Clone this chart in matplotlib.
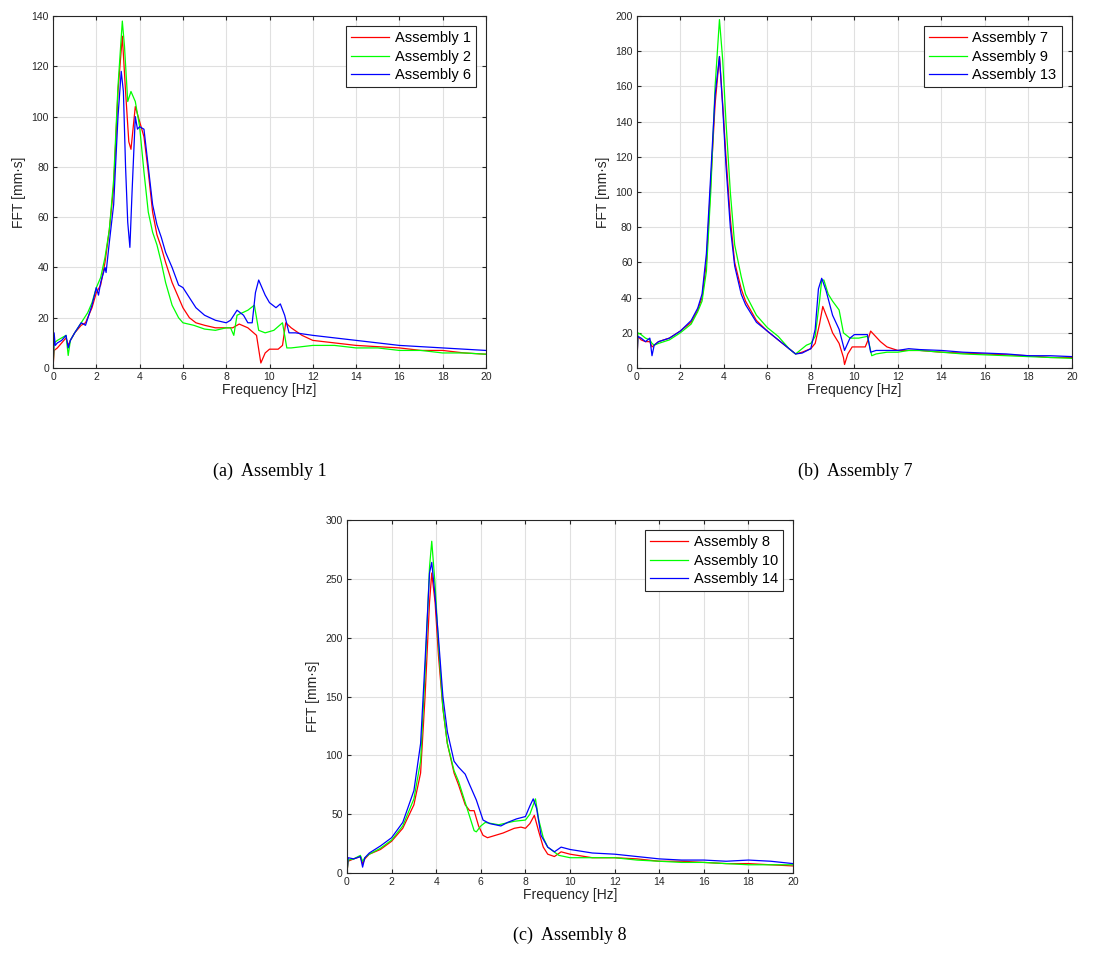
import numpy as np
import matplotlib
matplotlib.use("Agg")
import matplotlib.pyplot as plt

plt.rcParams['font.family'] = ['Liberation Sans', 'DejaVu Sans']

# --- panel (a): Assembly 1 / 2 / 6 ---
fa_red = [0, 0.05, 0.2, 0.4, 0.6, 0.7, 0.8, 1.0, 1.3, 1.5, 1.8, 2.0, 2.2, 2.4, 2.6, 2.8, 3.0, 3.2, 3.35, 3.5, 3.6,
          3.8, 4.0, 4.2, 4.4, 4.6, 4.8, 5.0, 5.2, 5.5, 5.8, 6.0, 6.3, 6.6, 7, 7.5, 8, 8.3, 8.6, 9, 9.4, 9.6, 9.8,
          10, 10.4, 10.6, 10.75, 11, 11.5, 12, 13, 14, 15, 16, 17, 18, 19, 20]
va_red = [0, 7, 8, 10, 12, 9, 11, 14, 17, 18, 24, 30, 33, 42, 55, 72, 110, 132, 110, 90, 87,
          104, 98, 92, 78, 62, 53, 48, 42, 34, 28, 24, 20, 18, 17, 16, 16, 16, 17.5, 16, 13, 2, 6,
          7.5, 7.5, 9, 18, 16, 13, 11, 10, 9, 8.5, 8, 7, 7, 6, 5.5]
fa_green = [0, 0.05, 0.2, 0.4, 0.6, 0.7, 0.8, 1.0, 1.3, 1.6, 1.8, 2.0, 2.2, 2.4, 2.6, 2.8, 3.0, 3.2, 3.3, 3.45,
            3.6, 3.8, 4.0, 4.2, 4.4, 4.6, 4.8, 5.0, 5.2, 5.5, 5.8, 6.0, 6.5, 7, 7.5, 8, 8.2, 8.35, 8.5, 9, 9.3,
            9.5, 9.8, 10.2, 10.6, 10.8, 11, 12, 13, 14, 15, 16, 17, 18, 19, 20]
va_green = [0, 10, 11, 12, 13, 5, 11, 14, 18, 22, 26, 32, 36, 44, 55, 75, 112, 138, 128, 106,
            110, 106, 96, 78, 62, 54, 49, 42, 34, 25, 20, 18, 17, 15.5, 15, 16, 16, 13, 21, 23, 25,
            15, 14, 15, 18, 8, 8, 9, 9, 8, 8, 7, 7, 6, 6, 5.5]
fa_blue = [0, 0.05, 0.1, 0.2, 0.4, 0.6, 0.7, 0.8, 1.0, 1.3, 1.5, 1.8, 2.0, 2.1, 2.2, 2.4, 2.45, 2.6, 2.8, 3.0,
           3.15, 3.25, 3.35, 3.45, 3.55, 3.65, 3.8, 3.9, 4.0, 4.2, 4.4, 4.6, 4.8, 5.0, 5.2, 5.5, 5.8, 6.0, 6.3,
           6.6, 7, 7.5, 8, 8.2, 8.5, 8.8, 9.0, 9.2, 9.35, 9.5, 9.8, 10, 10.3, 10.5, 10.7, 10.9, 11.2, 12, 13,
           14, 15, 16, 17, 18, 19, 20]
va_blue = [0, 14, 9, 10, 11, 13, 8, 11, 14, 18, 17, 25, 32, 29, 34, 40, 38, 50, 65, 100,
           118, 110, 80, 58, 48, 70, 100, 95, 96, 95, 80, 65, 57, 52, 46, 40, 33, 32, 28,
           24, 21, 19, 18, 19, 23, 21, 18, 18, 30, 35, 29, 26, 24, 25.5, 21, 14, 14, 13, 12,
           11, 10, 9, 8.5, 8, 7.5, 7]

# --- panel (b): Assembly 7 / 9 / 13 ---
fb_red = [0, 0.05, 0.2, 0.4, 0.6, 0.7, 0.8, 1.0, 1.5, 2.0, 2.5, 2.8, 3.0, 3.2, 3.4, 3.6, 3.8, 3.95, 4.1, 4.3,
          4.5, 4.8, 5.0, 5.5, 6.0, 6.5, 7.0, 7.3, 7.6, 8.0, 8.2, 8.4, 8.55, 8.8, 9.0, 9.3, 9.5, 9.55, 9.7,
          9.9, 10.2, 10.5, 10.6, 10.75, 10.9, 11.2, 11.5, 12, 13, 14, 15, 16, 17, 18, 19, 20]
vb_red = [0, 18, 16, 15, 15, 12, 13, 15, 17, 21, 26, 33, 40, 60, 105, 150, 177, 150, 120, 85,
          60, 45, 38, 27, 21, 16, 11, 8, 9, 11, 14, 25, 35, 27, 20, 14, 6, 2, 8,
          12, 12, 12, 15, 21, 19, 15, 12, 10, 10, 9, 8.5, 8, 7.5, 7, 6, 6]
fb_green = [0, 0.05, 0.2, 0.4, 0.6, 0.7, 0.8, 1.0, 1.5, 2.0, 2.5, 2.8, 3.0, 3.2, 3.4, 3.6, 3.8, 3.95, 4.1, 4.3,
            4.5, 4.8, 5.0, 5.5, 6.0, 6.5, 7.0, 7.3, 7.6, 7.8, 8.0, 8.2, 8.4, 8.5, 8.6, 8.8, 9.0, 9.3, 9.5,
            9.8, 10.2, 10.6, 10.8, 11, 11.5, 12, 12.5, 13, 14, 15, 16, 17, 18, 19, 20]
vb_green = [0, 20, 19, 17, 16, 14, 13, 14, 16, 20, 25, 32, 38, 55, 100, 160, 198, 175, 140, 100,
            70, 52, 42, 30, 23, 18, 11, 8, 11, 13, 14, 18, 38, 50, 50, 42, 38, 33, 20,
            17, 17, 18, 7, 8, 9, 9, 10, 10, 9, 8, 7.5, 7, 6.5, 6, 5.5]
fb_blue = [0, 0.05, 0.2, 0.4, 0.6, 0.7, 0.8, 1.0, 1.5, 2.0, 2.5, 2.8, 3.0, 3.2, 3.4, 3.6, 3.8, 3.95, 4.1, 4.3,
           4.5, 4.8, 5.0, 5.5, 6.0, 6.5, 7.0, 7.3, 7.6, 8.0, 8.2, 8.35, 8.5, 8.7, 9.0, 9.3, 9.55, 9.8, 10,
           10.6, 10.75, 11, 11.5, 12, 12.5, 13, 14, 15, 16, 17, 18, 19, 20]
vb_blue = [0, 18, 17, 15, 17, 7, 13, 15, 17, 21, 27, 34, 42, 65, 110, 155, 177, 148, 115, 80,
           58, 42, 36, 26, 21, 16, 11, 8, 8.5, 11, 22, 45, 51, 44, 30, 22, 10, 17, 19,
           19, 9, 10, 10, 10, 11, 10.5, 10, 9, 8.5, 8, 7, 7, 6.5]

# --- panel (c): Assembly 8 / 10 / 14 ---
fc_red = [0, 0.05, 0.3, 0.6, 0.7, 0.8, 1.0, 1.5, 2.0, 2.5, 3.0, 3.3, 3.5, 3.7, 3.8, 3.95, 4.1, 4.3, 4.5, 4.8,
          5.0, 5.3, 5.5, 5.7, 5.9, 6.1, 6.3, 7, 7.5, 7.8, 8.0, 8.2, 8.4, 8.6, 8.8, 9.0, 9.3, 9.6, 10, 11,
          12, 13, 14, 15, 16, 17, 18, 19, 20]
vc_red = [0, 10, 12, 14, 8, 12, 16, 20, 27, 38, 58, 85, 150, 230, 255, 230, 185, 140, 110, 85,
          75, 58, 53, 53, 40, 32, 30, 34, 38, 39, 38, 42, 49, 35, 22, 16, 14, 18, 16, 13,
          13, 12, 10, 10, 9, 8, 8, 7, 6]
fc_green = [0, 0.05, 0.3, 0.6, 0.7, 0.8, 1.0, 1.5, 2.0, 2.5, 3.0, 3.3, 3.5, 3.7, 3.8, 3.95, 4.1, 4.3, 4.5, 4.8,
            5.0, 5.3, 5.5, 5.7, 5.8, 6.0, 6.2, 6.8, 7.5, 8.0, 8.2, 8.45, 8.6, 8.8, 9.0, 9.5, 10, 11, 12, 13,
            14, 15, 16, 17, 18, 19, 20]
vc_green = [0, 11, 12, 15, 10, 13, 16, 21, 28, 40, 63, 95, 170, 260, 282, 245, 195, 140, 110, 87,
            78, 60, 48, 36, 35, 40, 43, 41, 44, 45, 50, 63, 45, 30, 22, 15, 13, 13, 13, 11,
            10, 9, 9, 8, 7, 7, 7]
fc_blue = [0, 0.05, 0.3, 0.6, 0.7, 0.8, 1.0, 1.5, 2.0, 2.5, 3.0, 3.3, 3.5, 3.7, 3.8, 3.95, 4.1, 4.3, 4.5, 4.8,
           5.0, 5.3, 5.5, 5.8, 6.1, 6.4, 6.9, 7.2, 7.6, 8.0, 8.2, 8.35, 8.5, 8.7, 9.0, 9.3, 9.6, 10, 11,
           12, 13, 14, 15, 16, 17, 18, 19, 20]
vc_blue = [0, 13, 12, 14, 5, 13, 17, 23, 30, 43, 70, 110, 180, 255, 264, 235, 200, 150, 120, 95,
           90, 84, 75, 62, 45, 42, 40, 43, 46, 48, 57, 63, 55, 32, 22, 18, 22, 20, 17,
           16, 14, 12, 11, 11, 10, 11, 10, 8]

panels = [
    dict(rect=[0.0484, 0.6194, 0.395, 0.364], ymax=140, ystep=20,
         series=[(fa_red, va_red, 'Assembly 1'), (fa_green, va_green, 'Assembly 2'),
                 (fa_blue, va_blue, 'Assembly 6')],
         caption='(a)  Assembly 1', cap_xy=(0.246, 0.513)),
    dict(rect=[0.581, 0.6194, 0.397, 0.364], ymax=200, ystep=20,
         series=[(fb_red, vb_red, 'Assembly 7'), (fb_green, vb_green, 'Assembly 9'),
                 (fb_blue, vb_blue, 'Assembly 13')],
         caption='(b)  Assembly 7', cap_xy=(0.780, 0.513)),
    dict(rect=[0.3166, 0.0972, 0.407, 0.365], ymax=300, ystep=50,
         series=[(fc_red, vc_red, 'Assembly 8'), (fc_green, vc_green, 'Assembly 10'),
                 (fc_blue, vc_blue, 'Assembly 14')],
         caption='(c)  Assembly 8', cap_xy=(0.520, 0.033)),
]
colors = ['#ff0000', '#00ff00', '#0000ff']
dark = '#262626'

fig = plt.figure(figsize=(10.96, 9.67), dpi=100)
for p in panels:
    ax = fig.add_axes(p['rect'])
    for (f, v, lab), c in zip(p['series'], colors):
        ax.plot(f, v, color=c, lw=0.9, label=lab)
    ax.set_xlim(0, 20)
    ax.set_ylim(0, p['ymax'])
    ax.set_xticks(np.arange(0, 21, 2))
    ax.set_yticks(np.arange(0, p['ymax'] + 1, p['ystep']))
    ax.grid(True, color='#e0e0e0', lw=0.8)
    ax.set_axisbelow(True)
    ax.tick_params(direction='in', top=True, right=True, labelsize=7.5, colors=dark,
                   length=3, width=0.8, pad=3)
    for s in ax.spines.values():
        s.set_color(dark)
        s.set_linewidth(0.8)
    ax.set_xlabel('Frequency [Hz]', fontsize=10, color=dark, labelpad=0.5)
    ax.set_ylabel('FFT [mm·s]', fontsize=10, color=dark, labelpad=4)
    leg = ax.legend(loc='upper right', fontsize=10.5, fancybox=False, framealpha=1,
                    edgecolor=dark, handlelength=2.6, labelspacing=0.3,
                    borderaxespad=0.7, handletextpad=0.4, borderpad=0.35)
    leg.get_frame().set_linewidth(0.8)
    fig.text(p['cap_xy'][0], p['cap_xy'][1], p['caption'], ha='center', va='center',
             fontsize=13, family=['Liberation Serif', 'DejaVu Serif'])

fig.savefig('out.png', dpi=100)
